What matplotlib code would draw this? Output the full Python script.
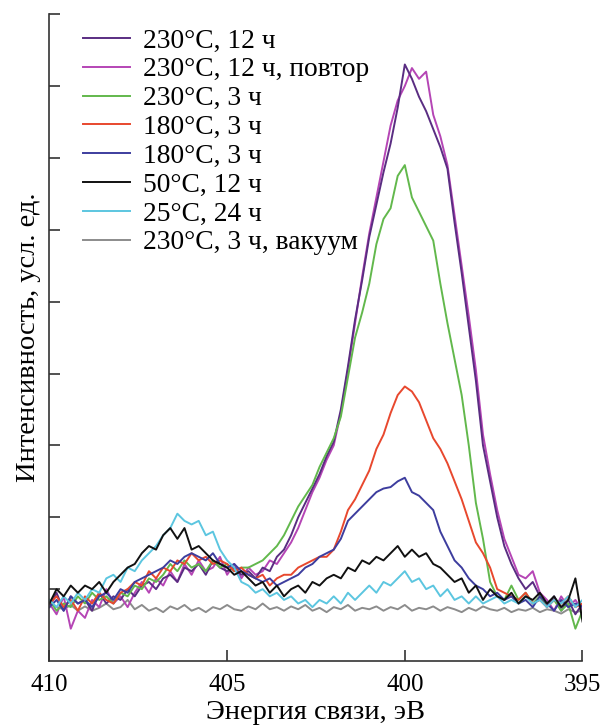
import numpy as np
import matplotlib
matplotlib.use("Agg")
import matplotlib.pyplot as plt

plt.rcParams['font.family'] = ['Liberation Serif', 'DejaVu Serif']

# энергия связи, эВ (шаг 0.2 эВ)
energia = np.linspace(410, 395, 76)

etiquetas = ["230°C, 12 ч", "230°C, 12 ч, повтор", "230°C, 3 ч", "180°C, 3 ч",
             "180°C, 3 ч", "50°C, 12 ч", "25°C, 24 ч", "230°C, 3 ч, вакуум"]
colores = ["#5a2d82", "#b545b5", "#62b84c", "#e8482e",
           "#3d3d9e", "#111111", "#5cc6e0", "#8c8c8c"]

s230_12 = [0.75, 0.95, 0.7, 0.9, 0.8, 0.85, 0.7, 0.95, 0.8, 0.9,
           0.85, 1.0, 0.9, 1.05, 1.1, 1.0, 1.15, 1.2, 1.1, 1.3,
           1.25, 1.35, 1.2, 1.4, 1.3, 1.25, 1.3, 1.2, 1.25, 1.15,
           1.3, 1.25, 1.45, 1.55, 1.75, 2.0, 2.2, 2.4, 2.6, 2.85,
           3.05, 3.5, 4.1, 4.75, 5.3, 5.9, 6.35, 6.8, 7.2, 7.7,
           8.3, 8.1, 7.85, 7.65, 7.4, 7.15, 6.85, 6.1, 5.4, 4.65,
           3.9, 3.0, 2.5, 2.0, 1.6, 1.35, 1.15, 1.0, 1.1, 0.9,
           0.75, 0.9, 0.7, 0.85, 0.65, 0.8]
s230_12r = [0.8, 0.65, 0.9, 0.45, 0.7, 0.6, 0.85, 0.75, 1.0, 0.8,
            0.9, 0.75, 0.95, 1.1, 0.95, 1.15, 1.05, 1.25, 1.1, 1.35,
            1.2, 1.4, 1.25, 1.3, 1.45, 1.2, 1.35, 1.15, 1.3, 1.2,
            1.25, 1.4, 1.35, 1.5, 1.65, 1.85, 2.1, 2.35, 2.55, 2.8,
            3.0, 3.45, 4.05, 4.7, 5.35, 5.95, 6.45, 6.95, 7.45, 7.8,
            8.0, 8.25, 8.1, 8.2, 7.6, 7.3, 6.9, 6.2, 5.5, 4.8,
            4.05, 3.15, 2.6, 2.1, 1.7, 1.45, 1.2, 1.15, 1.25, 0.95,
            0.85, 0.7, 0.9, 0.75, 0.85, 0.7]
s230_3 = [0.85, 0.7, 0.8, 0.75, 0.9, 0.8, 0.95, 0.85, 0.9, 0.8,
          0.95, 0.9, 1.05, 1.0, 1.15, 1.1, 1.2, 1.35, 1.25, 1.4,
          1.3, 1.35, 1.25, 1.4, 1.3, 1.35, 1.25, 1.3, 1.3, 1.35,
          1.4, 1.5, 1.6, 1.75, 1.95, 2.15, 2.3, 2.45, 2.7, 2.9,
          3.1, 3.4, 3.95, 4.5, 4.85, 5.25, 5.8, 6.15, 6.3, 6.75,
          6.9, 6.45, 6.25, 6.05, 5.85, 5.25, 4.7, 4.2, 3.7, 3.0,
          2.2, 1.7, 1.1, 0.9, 0.85, 1.05, 0.85, 0.95, 0.8, 0.9,
          0.75, 0.85, 0.7, 0.8, 0.45, 0.7]
s180_3a = [0.8, 0.9, 0.75, 0.85, 0.7, 0.9, 0.8, 0.95, 0.85, 0.8,
           0.95, 1.0, 1.1, 1.05, 1.25, 1.15, 1.3, 1.25, 1.4, 1.35,
           1.5, 1.4, 1.45, 1.35, 1.4, 1.35, 1.25, 1.3, 1.2, 1.15,
           1.2, 1.05, 1.15, 1.2, 1.2, 1.3, 1.35, 1.4, 1.45, 1.45,
           1.55, 1.8, 2.1, 2.25, 2.45, 2.65, 2.95, 3.15, 3.45, 3.7,
           3.82, 3.75, 3.6, 3.35, 3.1, 2.95, 2.75, 2.5, 2.25, 1.95,
           1.65, 1.5, 1.3, 1.0, 0.95, 0.9, 0.85, 0.95, 0.8, 0.85,
           0.75, 0.85, 0.8, 0.9, 0.75, 0.8]
s180_3b = [0.75, 0.85, 0.7, 0.9, 0.8, 0.85, 0.75, 0.9, 0.95, 0.85,
           1.0, 0.95, 1.1, 1.15, 1.2, 1.25, 1.3, 1.4, 1.35, 1.45,
           1.5, 1.45, 1.4, 1.5, 1.35, 1.3, 1.35, 1.25, 1.2, 1.15,
           1.1, 1.15, 1.05, 1.1, 1.15, 1.2, 1.3, 1.35, 1.45, 1.5,
           1.55, 1.7, 1.95, 2.05, 2.15, 2.25, 2.35, 2.4, 2.42, 2.5,
           2.55, 2.35, 2.3, 2.2, 2.1, 1.8, 1.6, 1.4, 1.3, 1.15,
           1.05, 1.0, 0.9, 0.95, 0.85, 0.9, 0.8, 0.85, 0.75, 0.9,
           0.8, 0.7, 0.85, 0.75, 0.8, 0.75]
s50_12 = [0.8, 1.0, 0.9, 1.05, 0.95, 1.05, 1.0, 1.1, 0.95, 1.1,
          1.2, 1.3, 1.35, 1.5, 1.6, 1.55, 1.75, 1.85, 1.7, 1.85,
          1.55, 1.6, 1.5, 1.4, 1.35, 1.3, 1.2, 1.25, 1.15, 1.05,
          1.1, 0.95, 1.05, 0.9, 1.0, 1.05, 0.95, 1.1, 1.05, 1.15,
          1.2, 1.15, 1.3, 1.25, 1.4, 1.35, 1.45, 1.4, 1.5, 1.6,
          1.45, 1.55, 1.45, 1.5, 1.35, 1.3, 1.2, 1.1, 1.15, 0.95,
          1.05, 0.85, 1.0, 0.9, 0.85, 0.95, 0.8, 0.9, 0.85, 0.95,
          0.8, 0.9, 0.75, 0.85, 1.15, 0.55]
s25_24 = [0.85, 0.75, 0.9, 0.8, 0.95, 0.85, 1.0, 0.95, 1.15, 1.2,
          1.1, 1.3, 1.25, 1.4, 1.5, 1.6, 1.75, 1.85, 2.05, 1.95,
          1.9, 1.95, 1.75, 1.8, 1.55, 1.4, 1.3, 1.1, 1.05, 0.95,
          1.0, 0.9, 0.95, 0.85, 0.9, 0.8, 0.85, 0.75, 0.85, 0.8,
          0.9, 0.8, 0.95, 0.85, 0.95, 1.05, 0.95, 1.1, 1.05, 1.15,
          1.25, 1.1, 1.15, 1.0, 1.05, 0.9, 1.0, 0.85, 0.9, 0.8,
          0.9, 0.8, 0.85, 0.9, 0.8, 0.85, 0.8, 0.9, 0.8, 0.85,
          0.75, 0.85, 0.8, 0.9, 0.75, 0.85]
s230_vac = [0.8, 0.75, 0.72, 0.78, 0.7, 0.76, 0.7, 0.74, 0.8, 0.72,
            0.75, 0.85, 0.72, 0.78, 0.7, 0.74, 0.68, 0.76, 0.72, 0.78,
            0.7, 0.74, 0.68, 0.75, 0.72, 0.78, 0.72, 0.7, 0.76, 0.72,
            0.8, 0.72, 0.75, 0.7, 0.76, 0.72, 0.78, 0.7, 0.74, 0.68,
            0.75, 0.72, 0.78, 0.7, 0.74, 0.72, 0.76, 0.7, 0.75, 0.72,
            0.78, 0.7, 0.74, 0.72, 0.76, 0.7, 0.75, 0.72, 0.68, 0.74,
            0.7, 0.76, 0.72, 0.7, 0.74, 0.68, 0.72, 0.7, 0.74, 0.68,
            0.72, 0.7, 0.66, 0.72, 0.68, 0.7]

series = [s230_12, s230_12r, s230_3, s180_3a, s180_3b, s50_12, s25_24, s230_vac]

fig = plt.figure(figsize=(6.03, 7.26), dpi=100)
ax = fig.add_axes([0.082, 0.0895, 0.884, 0.891])

orden = [7, 1, 0, 2, 3, 4, 6, 5]
lineas = {}
for k in orden:
    l, = ax.plot(energia, series[k], color=colores[k], lw=1.4, label=etiquetas[k])
    lineas[k] = l

ax.set_xlim(410, 395)
ax.set_ylim(0, 9)
ax.set_xticks([410, 405, 400, 395])
ax.set_yticks(range(1, 10))
ax.set_yticklabels([])
ax.tick_params(direction='in', length=8, width=1.2, colors='#333333', labelcolor='black')
ax.tick_params(axis='x', labelsize=18, pad=9)
for lado in ['top', 'right']:
    ax.spines[lado].set_visible(False)
for lado in ['left', 'bottom']:
    ax.spines[lado].set_linewidth(1.2)
    ax.spines[lado].set_color('#333333')

ax.set_xlabel("Энергия связи, эВ", fontsize=20.5)
ax.set_ylabel("Интенсивность, усл. ед.", fontsize=20.5)
ax.xaxis.set_label_coords(0.5, -0.06)
ax.yaxis.set_label_coords(-0.016, 0.5)

ax.legend([lineas[k] for k in range(8)], etiquetas, loc='upper left',
          frameon=False, fontsize=19.8, handlelength=1.7, handletextpad=0.47,
          labelspacing=0.13, borderpad=0, borderaxespad=0,
          bbox_to_anchor=(0.063, 0.978))

fig.savefig("out.png", dpi=100)
